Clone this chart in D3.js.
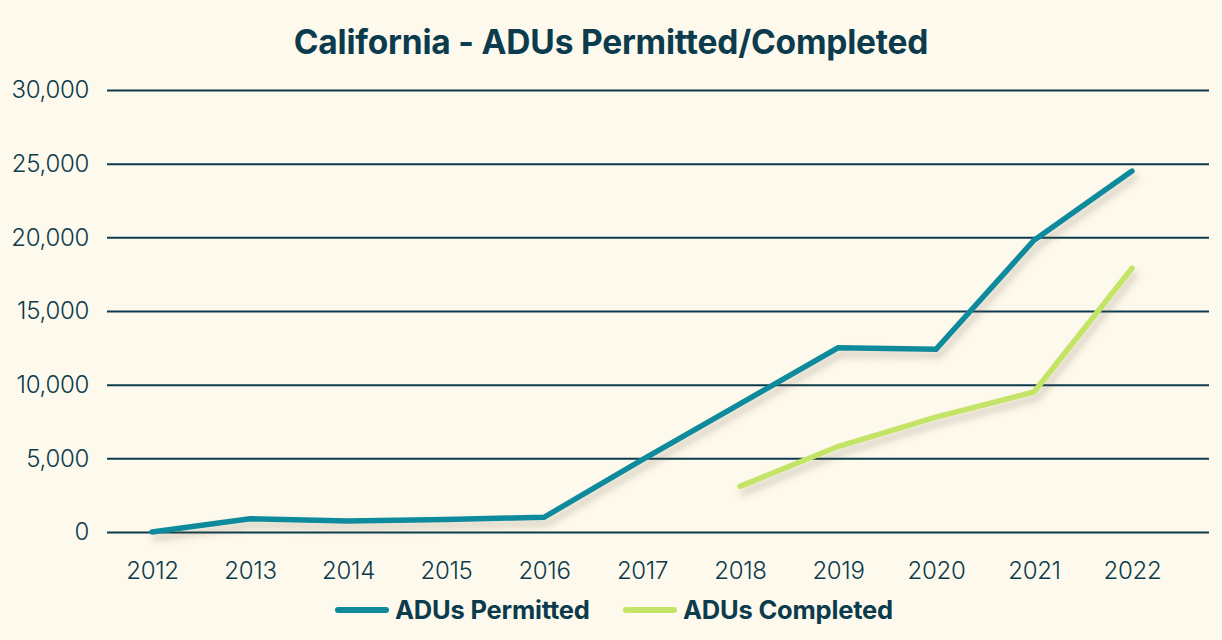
<!DOCTYPE html>
<html><head><meta charset="utf-8">
<script src="https://cdn.jsdelivr.net/npm/d3@7/dist/d3.min.js"></script>
<style>
html,body{margin:0;padding:0;background:#fdf9ed;}
svg{display:block;font-family:Inter,"Noto Sans",sans-serif;}
</style></head>
<body>
<svg id="c" width="1222" height="640"></svg>
<script>
const years = [2012,2013,2014,2015,2016,2017,2018,2019,2020,2021,2022];
const permitted = [0,900,750,850,1000,4900,8700,12500,12400,19800,24500];
const completedYears = [2018,2019,2020,2021,2022];
const completed = [3100,5800,7800,9500,17900];
const yTicks = [0,5000,10000,15000,20000,25000,30000];
const seriesNames = ["ADUs Permitted","ADUs Completed"];
const colors = ["#0f8a9c","#c4e468"];
const ink = "#0b3b4c";

const svg = d3.select("#c");
svg.append("rect").attr("width",1222).attr("height",640).attr("fill","#fdf9ed");

const defs = svg.append("defs");
const f = defs.append("filter").attr("id","sh").attr("x","-10%").attr("y","-10%").attr("width","130%").attr("height","140%");
f.append("feDropShadow").attr("dx",3).attr("dy",6).attr("stdDeviation",3.5)
  .attr("flood-color","#6b5a3a").attr("flood-opacity",0.28);

const x = d3.scaleLinear().domain([2012,2022]).range([152,1132]);
const y = d3.scaleLinear().domain([0,30000]).range([532,90]);

svg.append("text").attr("x",611).attr("y",54).attr("text-anchor","middle")
  .attr("font-size",33.5).attr("font-weight",700).attr("fill",ink).attr("letter-spacing",-0.2)
  .text("California - ADUs Permitted/Completed");

// y axis with gridlines
const yAxis = d3.axisLeft(y).tickValues(yTicks).tickSize(-(1209-107))
  .tickFormat(d3.format(","));
const ga = svg.append("g").attr("transform","translate(107,0)").call(yAxis);
ga.select(".domain").remove();
ga.selectAll(".tick line").attr("stroke",ink).attr("stroke-width",2);
ga.selectAll(".tick text").attr("x",-18).attr("font-size",24).attr("fill",ink)
  .attr("font-family","Inter, sans-serif").attr("font-weight",300).attr("letter-spacing",-0.3);

// x axis
const xAxis = d3.axisBottom(x).tickValues(years).tickSize(0).tickFormat(d3.format("d"));
const gx = svg.append("g").attr("transform","translate(0,532)").call(xAxis);
gx.select(".domain").remove();
gx.selectAll(".tick text").attr("y",30).attr("dy","0.71em").attr("font-size",24).attr("fill",ink)
  .attr("font-family","Inter, sans-serif").attr("font-weight",300).attr("letter-spacing",-0.3);

const line = d3.line().x(d=>x(d[0])).y(d=>y(d[1]));
const data1 = years.map((yr,i)=>[yr,permitted[i]]);
const data2 = completedYears.map((yr,i)=>[yr,completed[i]]);

svg.append("path").datum(data1).attr("d",line).attr("fill","none")
  .attr("stroke",colors[0]).attr("stroke-width",5.5).attr("stroke-linecap","round")
  .attr("stroke-linejoin","miter").attr("filter","url(#sh)");
svg.append("path").datum(data2).attr("d",line).attr("fill","none")
  .attr("stroke",colors[1]).attr("stroke-width",5.5).attr("stroke-linecap","round")
  .attr("stroke-linejoin","miter").attr("filter","url(#sh)");

// legend
const legendX = [338, 626];
seriesNames.forEach((n,i)=>{
  const g = svg.append("g").attr("transform",`translate(${legendX[i]},610)`);
  g.append("line").attr("x1",0).attr("x2",48).attr("y1",0).attr("y2",0)
    .attr("stroke",colors[i]).attr("stroke-width",6).attr("stroke-linecap","round");
  g.append("text").attr("x",57).attr("y",0).attr("dy","0.35em").attr("font-size",25.5)
    .attr("font-weight",700).attr("fill",ink).attr("letter-spacing",-0.2).text(n);
});
</script>
</body></html>
